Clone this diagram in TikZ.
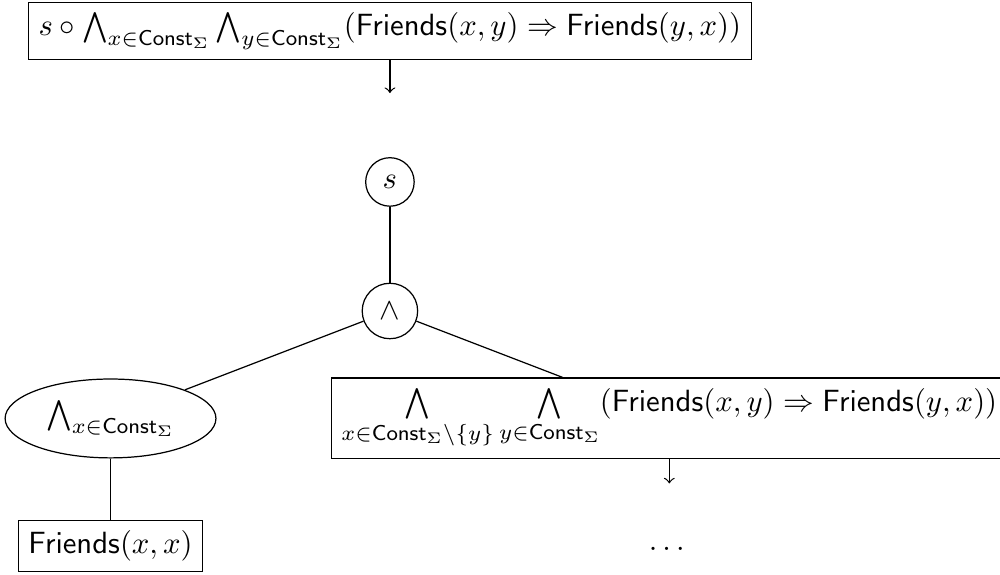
\documentclass[tikz,border=0pt]{standalone}
\usepackage{amsmath}
\usetikzlibrary{arrows,positioning,shapes.geometric}

\newcommand{\Friends}{\mathsf{Friends}}
\newcommand{\Const}{\mathsf{Const}_\Sigma}

\begin{document}
\begin{tikzpicture}[formula/.style={rectangle,draw,align=center}, op/.style={circle,draw}, quant/.style={ellipse,draw}, links/.style={->}]

	\useasboundingbox (-127pt,10.1pt) rectangle (198.7pt,-176.9pt);

	\node[formula] (goal) at (0,0) {$s \circ \bigwedge_{x\in\Const}\bigwedge_{y\in\Const}(\Friends(x,y)\Rightarrow\Friends(y,x))$};
	\coordinate[below = 10.75pt of goal] (goal-step);
	\draw[links] (goal) -- (goal-step);

	% the tree of the formula
	\node[op, below = 31.6pt of goal] (state) {$s$};
	\node[op, below = 24.7pt of state] (and) {$\wedge$};
	\draw (state) -- (and);

	\node[quant, on grid, below left = 35pt and 91pt of and] (forall-x) {$\bigwedge_{x\in\Const}$};
	\node[formula, on grid, below right = 35pt and 91pt of and] (rest) {$\bigwedge\limits_{x\in\Const\setminus\{y\}}\bigwedge\limits_{y\in\Const}(\Friends(x,y)\Rightarrow\Friends(y,x))$};
	\draw (and) -- (forall-x);
	\draw (and) -- (rest);

	\node[formula, below = 19.9pt of forall-x] (leaf) {$\Friends(x,x)$};
	\draw (forall-x) -- (leaf);

	\coordinate[below = 7.8pt of rest] (rest-step);
	\draw[links] (rest) -- (rest-step);
	\node[below = 25pt of rest] (more) {$\dots$};

\end{tikzpicture}
\end{document}
